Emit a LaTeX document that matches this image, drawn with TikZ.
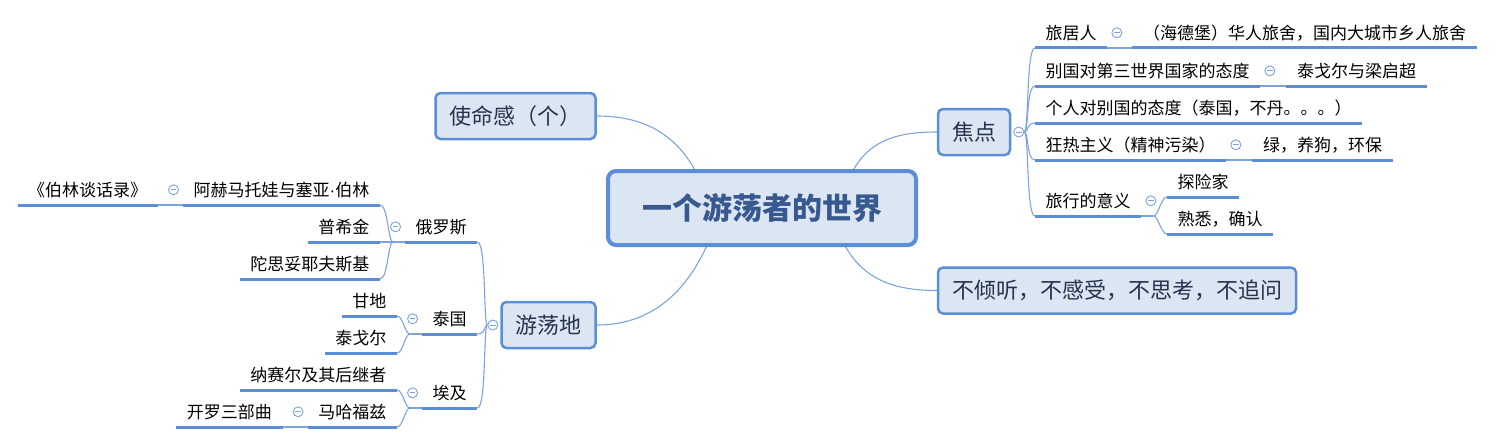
\documentclass[tikz,border=0pt]{standalone}
\usepackage{fontspec}
\newfontfamily\cjk{Noto Sans CJK SC}
\newfontfamily\latin{Liberation Sans}
\usetikzlibrary{positioning,calc}
\definecolor{mmblue}{HTML}{5B8ED6}
\definecolor{mmfill}{HTML}{DCE6F2}
\definecolor{mmnavy}{HTML}{25334F}
\definecolor{mmtitle}{HTML}{37598F}
\definecolor{mmthin}{HTML}{7EA3DA}
\tikzset{
  centerbox/.style={rectangle, rounded corners=8pt, draw=mmblue, fill=mmfill, line width=4pt,
                    minimum width=308pt, minimum height=74pt, inner sep=0pt, text=mmtitle,
                    font=\cjk\bfseries\fontsize{30}{30}\selectfont},
  topicbox/.style={rectangle, rounded corners=5pt, draw=mmblue, fill=mmfill, line width=2.5pt,
                   inner xsep=14pt, inner ysep=0pt, minimum height=46pt, text=mmnavy,
                   font=\cjk\fontsize{22}{22}\selectfont},
  leaf/.style={inner xsep=10.5pt, inner ysep=0pt, minimum height=30pt, font=\cjk\fontsize{17}{17}\selectfont},
  uline/.style={draw=mmblue, line width=3pt},
  conn/.style={draw=mmthin, line width=1.1pt},
  fold/.style={circle, draw=mmthin, fill=white, line width=0.9pt, minimum size=10pt, inner sep=0pt,
               path picture={\draw[mmthin, line width=0.9pt]
                 ($(path picture bounding box.center)+(-2.8,0)$) -- ($(path picture bounding box.center)+(2.8,0)$);}},
}

\begin{document}
\begin{tikzpicture}[x=1pt, y=-1pt]
  \useasboundingbox (0,0) rectangle (1496,444);

  % main topics
  \node[centerbox] (world) at (762,208) {一个游荡者的世界};
  \node[topicbox] (mission) at (515.5,116) {使命感（个）};
  \node[topicbox] (focus) at (974,132) {焦点};
  \node[topicbox] (noask) at (1117,290.5) {不倾听，不感受，不思考，不追问};
  \node[topicbox] (wander) at (548.5,325) {游荡地};

  % focus side
  \node[leaf, anchor=south west] (r1) at (1035,48) {旅居人};
  \node[leaf, right=25pt of r1.south east, anchor=south west] (r1a) {（海德堡）华人旅舍，国内大城市乡人旅舍};
  \node[leaf, anchor=south west] (r2) at (1035,86) {别国对第三世界国家的态度};
  \node[leaf, right=26pt of r2.south east, anchor=south west] (r2a) {泰戈尔与梁启超};
  \node[leaf, anchor=south west] (r3) at (1035,123) {个人对别国的态度（泰国，不丹。。。）};
  \node[leaf, anchor=south west] (r4) at (1035,160) {狂热主义（精神污染）};
  \node[leaf, right=26pt of r4.south east, anchor=south west] (r4a) {绿，养狗，环保};
  \node[leaf, anchor=south west] (r5) at (1035,216) {旅行的意义};
  \node[leaf, anchor=south west] (r5a) at (1167,197) {探险家};
  \node[leaf, anchor=south west] (r5b) at (1167,234) {熟悉，确认};

  % wander side
  \node[leaf, anchor=south west] (rus) at (405,242) {俄罗斯};
  \node[leaf, left=25pt of rus.south west, anchor=south east] (pushkin) {普希金};
  \node[leaf, anchor=south east] (akhm) at (380,205) {阿赫马托娃与塞亚{\latin ·}伯林};
  \node[leaf, left=25pt of akhm.south west, anchor=south east] (berlin) {《伯林谈话录》};
  \node[leaf, anchor=south east] (dost) at (380,279) {陀思妥耶夫斯基};
  \node[leaf, anchor=south west] (thai) at (422,334) {泰国};
  \node[leaf, anchor=south east] (gandhi) at (397,316) {甘地};
  \node[leaf, anchor=south east] (tagore) at (397,353) {泰戈尔};
  \node[leaf, anchor=south west] (egypt) at (422,408) {埃及};
  \node[leaf, anchor=south east] (nasser) at (397,390) {纳赛尔及其后继者};
  \node[leaf, anchor=south east] (mahfouz) at (397,427) {马哈福兹};
  \node[leaf, left=25pt of mahfouz.south west, anchor=south east] (cairo) {开罗三部曲};

  % main connectors
  \draw[conn] (mission.east) to[out=0,in=120] (world.150);
  \draw[conn] (world.23) to[out=60,in=180] (focus.west);
  \draw[conn] (world.-25) to[out=-60,in=180] (noask.west);
  \draw[conn] (world.215) to[out=-115,in=0] (wander.east);

  % fold markers
  \node[fold, right=2pt of focus.east] (fFocus) {};
  \node[fold, left=2pt of wander.west] (fWander) {};
  \node[fold, right=4pt of r1.east] (f1) {};
  \node[fold, right=4pt of r2.east] (f2) {};
  \node[fold, right=4pt of r4.east] (f4) {};
  \node[fold, right=4pt of r5.east] (f5) {};
  \node[fold, left=4pt of rus.west] (fRus) {};
  \node[fold, left=4pt of akhm.west] (fAkhm) {};
  \node[fold, left=4pt of thai.west] (fThai) {};
  \node[fold, left=4pt of egypt.west] (fEgypt) {};
  \node[fold, left=4pt of mahfouz.west] (fMahf) {};

  % branches
  \foreach \n in {r1,r2,r3,r4,r5}
    \draw[conn] (fFocus.east) .. controls +(5,0) and +(-9,0) .. (\n.south west);
  \foreach \n in {rus,thai,egypt}
    \draw[conn] (fWander.west) .. controls +(-4,0) and +(9,0) .. (\n.south east);

  \draw[conn] (r1.south east) -- (r1a.south west);
  \draw[conn] (r2.south east) -- (r2a.south west);
  \draw[conn] (r4.south east) -- (r4a.south west);
  \coordinate (j5) at ($(r5.south east)+(12,0)$);
  \draw[conn] (r5.south east) -- (j5);
  \foreach \n in {r5a,r5b}
    \draw[conn] (j5) .. controls +(5,0) and +(-6,0) .. (\n.south west);

  \draw[conn] (pushkin.south east) -- (rus.south west);
  \coordinate (jRus) at ($(rus.south west)+(-12,0)$);
  \foreach \n in {akhm,dost}
    \draw[conn] (jRus) .. controls +(-5,0) and +(8,0) .. (\n.south east);
  \draw[conn] (berlin.south east) -- (akhm.south west);

  \coordinate (jThai) at ($(thai.south west)+(-12,0)$);
  \draw[conn] (thai.south west) -- (jThai);
  \foreach \n in {gandhi,tagore}
    \draw[conn] (jThai) .. controls +(-5,0) and +(6,0) .. (\n.south east);

  \coordinate (jEgypt) at ($(egypt.south west)+(-12,0)$);
  \draw[conn] (egypt.south west) -- (jEgypt);
  \foreach \n in {nasser,mahfouz}
    \draw[conn] (jEgypt) .. controls +(-5,0) and +(6,0) .. (\n.south east);
  \draw[conn] (cairo.south east) -- (mahfouz.south west);

  % underlines
  \foreach \n in {r1,r1a,r2,r2a,r3,r4,r4a,r5,r5a,r5b,rus,pushkin,akhm,berlin,dost,thai,gandhi,tagore,egypt,nasser,mahfouz,cairo}
    \draw[uline] (\n.south west) -- (\n.south east);
\end{tikzpicture}
\end{document}
